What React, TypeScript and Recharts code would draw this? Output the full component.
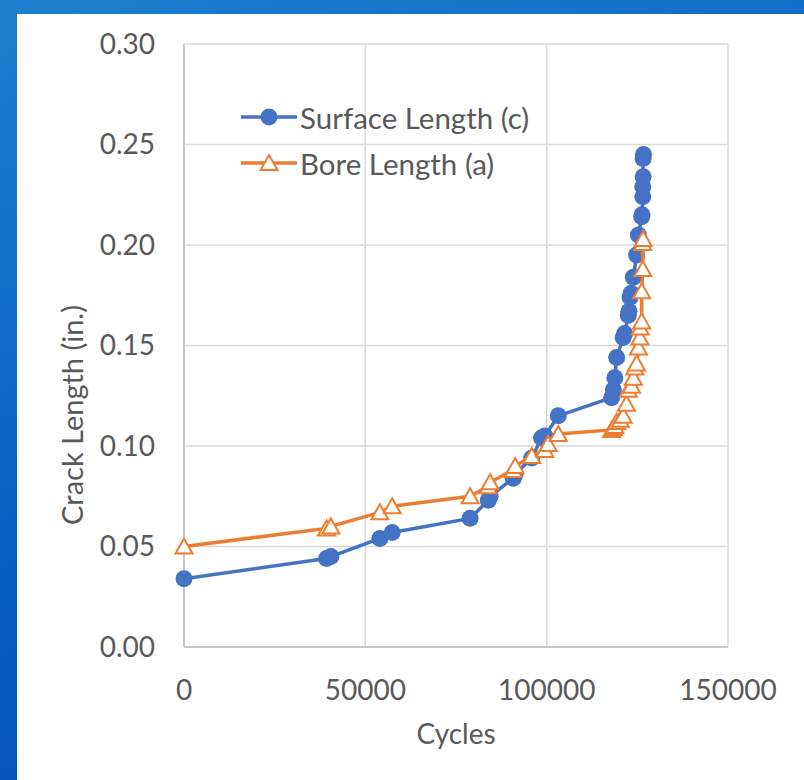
import React from 'react';
import { ScatterChart, Scatter, XAxis, YAxis, CartesianGrid, Label } from 'recharts';

// Surface crack length (c) vs. load cycles
const surfaceCycles = [
  0, 39300, 40500, 54000, 57400, 78900, 83900, 84400, 90800, 91300, 95900, 98600, 99500,
  103200, 117900, 118400, 118800, 119300, 121100, 121500, 122500, 122700, 123000, 123300,
  123900, 124800, 125300, 126200, 126300, 126500, 126500, 126600, 126600, 126700,
];
const surfaceLength = [
  0.034, 0.044, 0.045, 0.054, 0.057, 0.064, 0.073, 0.075, 0.084, 0.086, 0.094, 0.104, 0.105,
  0.115, 0.124, 0.128, 0.134, 0.144, 0.154, 0.156, 0.165, 0.167, 0.174, 0.176,
  0.184, 0.195, 0.205, 0.214, 0.215, 0.224, 0.229, 0.234, 0.243, 0.245,
];

// Bore crack length (a) vs. load cycles
const boreCycles = [
  0, 39300, 40500, 54000, 57400, 78900, 83900, 84400, 90800, 91300, 95900, 99500, 100400,
  103200, 117900, 118400, 118800, 119300, 120300, 121100, 122000, 122500, 123400, 123900,
  124300, 124800, 125300, 125700, 125800, 126200, 126200, 126500, 126500, 126600,
];
const boreLength = [
  0.050, 0.059, 0.060, 0.067, 0.070, 0.075, 0.080, 0.082, 0.088, 0.090, 0.095, 0.098, 0.101,
  0.106, 0.108, 0.109, 0.110, 0.112, 0.113, 0.115, 0.121, 0.128, 0.130, 0.134,
  0.139, 0.141, 0.149, 0.154, 0.159, 0.162, 0.177, 0.188, 0.201, 0.203,
];

const xTicks = [0, 50000, 100000, 150000];
const yTicks = [0, 0.05, 0.1, 0.15, 0.2, 0.25, 0.3];

const BLUE = '#4472C4';
const ORANGE = '#ED7D31';
const TEXT = '#595959';
const FONT = 'Lato, "Open Sans", sans-serif';

const surfaceData = surfaceCycles.map((c, i) => ({ cycles: c, length: surfaceLength[i] }));
const boreData = boreCycles.map((c, i) => ({ cycles: c, length: boreLength[i] }));

const CircleMarker = (props: any) => (
  <circle cx={props.cx} cy={props.cy} r={8.5} fill={BLUE} />
);

const TriangleMarker = (props: any) => {
  const { cx, cy } = props;
  const pts = `${cx},${cy - 8} ${cx + 8.5},${cy + 7} ${cx - 8.5},${cy + 7}`;
  return <polygon points={pts} fill="#fff" stroke={ORANGE} strokeWidth={2} />;
};

const LegendRow = ({ color, marker, label }: { color: string; marker: 'circle' | 'triangle'; label: string }) => (
  <div style={{ display: 'flex', alignItems: 'center', height: 46 }}>
    <svg width={58} height={24}>
      <line x1={1} y1={12} x2={57} y2={12} stroke={color} strokeWidth={3.5} />
      {marker === 'circle' ? (
        <circle cx={29} cy={12} r={8.5} fill={color} />
      ) : (
        <polygon points="29,4 37.5,19 20.5,19" fill="#fff" stroke={color} strokeWidth={2} />
      )}
    </svg>
    <span style={{ marginLeft: 2, fontSize: 29.5, color: TEXT, fontFamily: FONT, whiteSpace: 'nowrap' }}>{label}</span>
  </div>
);

export default function App() {
  return (
    <div
      style={{
        position: 'absolute',
        left: 0,
        top: 0,
        width: 804,
        height: 780,
        overflow: 'hidden',
        background: 'linear-gradient(160deg, #1c80cf 0%, #0b63c4 45%, #0047b4 100%)',
      }}
    >
      <div style={{ position: 'absolute', left: 17, top: 14, right: 0, bottom: 0, background: '#fff' }} />
      <div style={{ position: 'absolute', left: 0, top: 0 }}>
        <ScatterChart width={804} height={780} margin={{ top: 44, right: 76, bottom: 0, left: 0 }}>
          <CartesianGrid stroke="#D9D9D9" strokeWidth={1.5} />
          <XAxis
            type="number"
            dataKey="cycles"
            domain={[0, 150000]}
            ticks={xTicks}
            height={133}
            tickSize={0}
            tickMargin={33}
            axisLine={{ stroke: '#BFBFBF', strokeWidth: 1.5 }}
            tickLine={false}
            tick={{ fill: TEXT, fontSize: 28, fontFamily: FONT }}
            interval={0}
          >
            <Label
              content={() => (
                <text x={456} y={744} textAnchor="middle" fill={TEXT} fontSize={28} fontFamily={FONT}>
                  Cycles
                </text>
              )}
            />
          </XAxis>
          <YAxis
            type="number"
            dataKey="length"
            domain={[0, 0.3]}
            ticks={yTicks}
            width={184}
            tickSize={0}
            tickMargin={29}
            axisLine={{ stroke: '#BFBFBF', strokeWidth: 1.5 }}
            tickLine={false}
            tick={{ fill: TEXT, fontSize: 28, fontFamily: FONT }}
            tickFormatter={(v: number) => v.toFixed(2)}
            interval={0}
          >
            <Label
              content={() => (
                <text
                  x={83}
                  y={415}
                  transform="rotate(-90, 83, 415)"
                  textAnchor="middle"
                  fill={TEXT}
                  fontSize={29}
                  fontFamily={FONT}
                >
                  Crack Length (in.)
                </text>
              )}
            />
          </YAxis>
          <Scatter
            name="Surface Length (c)"
            data={surfaceData}
            line={{ stroke: BLUE, strokeWidth: 3.5 }}
            lineType="joint"
            shape={CircleMarker}
            isAnimationActive={false}
          />
          <Scatter
            name="Bore Length (a)"
            data={boreData}
            line={{ stroke: ORANGE, strokeWidth: 3.5 }}
            lineType="joint"
            shape={TriangleMarker}
            isAnimationActive={false}
          />
        </ScatterChart>
      </div>
      <div style={{ position: 'absolute', left: 240, top: 94 }}>
        <LegendRow color={BLUE} marker="circle" label="Surface Length (c)" />
        <LegendRow color={ORANGE} marker="triangle" label="Bore Length (a)" />
      </div>
    </div>
  );
}
